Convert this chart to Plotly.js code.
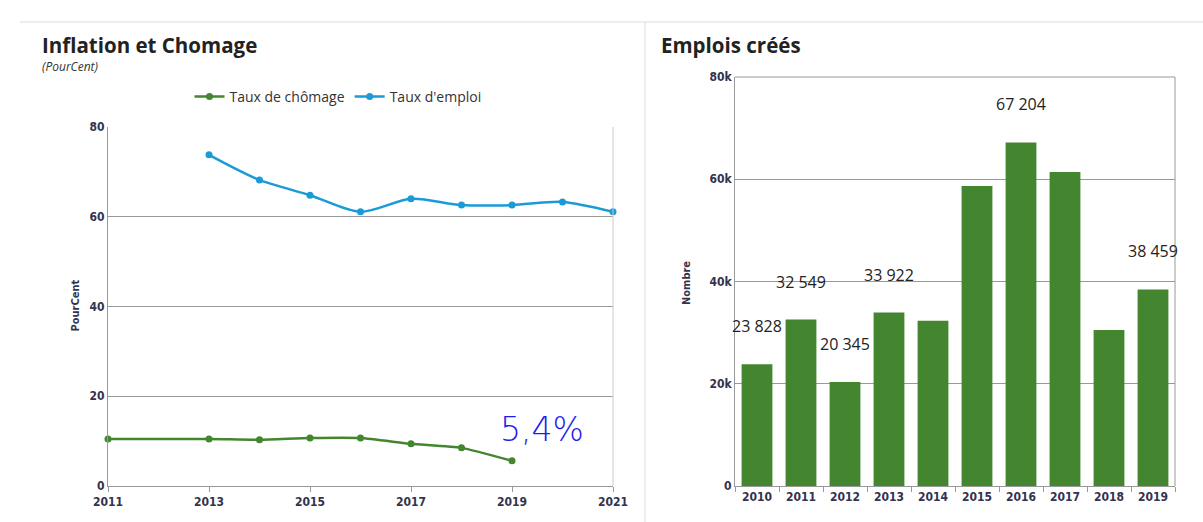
<!DOCTYPE html>
<html><head><meta charset="utf-8">
<script src="https://cdn.plot.ly/plotly-3.0.1.min.js"></script>
<style>html,body{margin:0;padding:0;background:#fff}#chart{width:1203px;height:522px}</style>
</head><body><div id="chart"></div>
<script>
// Left chart data
const yearsEmploi = [2013, 2014, 2015, 2016, 2017, 2018, 2019, 2020, 2021];
const tauxEmploi = [73.8, 68.2, 64.8, 61.1, 64.0, 62.6, 62.6, 63.3, 61.1];
const yearsChomage = [2011, 2013, 2014, 2015, 2016, 2017, 2018, 2019];
const tauxChomage = [10.5, 10.5, 10.3, 10.7, 10.7, 9.4, 8.5, 5.6];
// Right chart data
const yearsEmplois = ['2010','2011','2012','2013','2014','2015','2016','2017','2018','2019'];
const emploisCrees = [23828, 32549, 20345, 33922, 32300, 58700, 67204, 61400, 30500, 38459];
const labelledYears = ['2010','2011','2012','2013','2016','2019'];
const labelledValues = [23828, 32549, 20345, 33922, 67204, 38459];
const labelledTexts = ['23 828','32 549','20 345','33 922','67 204','38 459'];

const W = 1203, H = 522;
const px = x => x / W, py = y => 1 - y / H;
const tickFont = {family: 'DejaVu Sans Condensed', size: 12, color: '#33334d', weight: 'bold'};

const traces = [
  {x: yearsChomage, y: tauxChomage, name: 'Taux de chômage', type: 'scatter', mode: 'lines+markers',
   line: {color: '#43862f', width: 2.5, shape: 'spline', smoothing: 0.5}, marker: {color: '#43862f', size: 7},
   xaxis: 'x', yaxis: 'y', cliponaxis: false},
  {x: yearsEmploi, y: tauxEmploi, name: "Taux d'emploi", type: 'scatter', mode: 'lines+markers',
   line: {color: '#1a9bd7', width: 2.5, shape: 'spline', smoothing: 0.8}, marker: {color: '#1a9bd7', size: 7},
   xaxis: 'x', yaxis: 'y', cliponaxis: false},
  {x: yearsEmplois, y: emploisCrees, type: 'bar', marker: {color: '#43862f', line: {width: 0}},
   xaxis: 'x2', yaxis: 'y2', showlegend: false}
];

const annotations = [
  {xref: 'paper', yref: 'paper', x: px(40), y: py(45), xanchor: 'left', yanchor: 'middle', showarrow: false,
   text: '<b>Inflation et Chomage</b>', font: {family: 'Open Sans', size: 20.5, color: '#222'}},
  {xref: 'paper', yref: 'paper', x: px(40), y: py(67), xanchor: 'left', yanchor: 'middle', showarrow: false,
   text: '<i>(PourCent)</i>', font: {family: 'Open Sans', size: 12, color: '#333'}},
  {xref: 'paper', yref: 'paper', x: px(659), y: py(45), xanchor: 'left', yanchor: 'middle', showarrow: false,
   text: '<b>Emplois créés</b>', font: {family: 'Open Sans', size: 20.5, color: '#222'}},
  {xref: 'paper', yref: 'paper', x: px(66), y: py(306), textangle: -90, showarrow: false,
   text: 'PourCent', font: {family: 'DejaVu Sans Condensed', size: 11, color: '#33334d', weight: 'bold'}},
  {xref: 'paper', yref: 'paper', x: px(686), y: py(283), textangle: -90, showarrow: false,
   text: 'Nombre', font: {family: 'DejaVu Sans Condensed', size: 11, color: '#33334d', weight: 'bold'}},
  {xref: 'x', yref: 'y', x: 2019.6, y: 12.5, showarrow: false, text: '5,4%',
   font: {family: 'DejaVu Sans', size: 33, color: '#1c1cf0', weight: 300}}
];
labelledYears.forEach((yr, i) => {
  annotations.push({xref: 'x2', yref: 'y2', x: yearsEmplois.indexOf(yr), y: labelledValues[i], yshift: 38, showarrow: false,
    text: labelledTexts[i], font: {family: 'Open Sans', size: 16, color: '#222'}});
});

const shapes = [
  {type: 'line', xref: 'paper', yref: 'paper', x0: px(20), x1: 1, y0: py(22), y1: py(22), line: {color: '#dddddd', width: 1}},
  {type: 'line', xref: 'paper', yref: 'paper', x0: px(645), x1: px(645), y0: py(22), y1: 0, line: {color: '#dddddd', width: 1}},
  {type: 'line', xref: 'paper', yref: 'paper', x0: px(613), x1: px(613), y0: py(127), y1: py(486), line: {color: '#cccccc', width: 1}},
  {type: 'line', xref: 'paper', yref: 'paper', x0: px(735), x1: px(1175), y0: py(77), y1: py(77), line: {color: '#999999', width: 1}},
  {type: 'line', xref: 'paper', yref: 'paper', x0: px(1175), x1: px(1175), y0: py(77), y1: py(486), line: {color: '#999999', width: 1}}
];

const layout = {
  width: W, height: H, margin: {l: 0, r: 0, t: 0, b: 0},
  paper_bgcolor: '#fff', plot_bgcolor: '#fff', font: {family: 'Open Sans', color: '#333'},
  showlegend: true,
  legend: {orientation: 'h', x: px(338), xanchor: 'center', y: py(97), yanchor: 'middle',
    font: {family: 'Open Sans', size: 14, color: '#333'}, itemwidth: 30, tracegroupgap: 0, bgcolor: 'rgba(0,0,0,0)'},
  xaxis: {domain: [px(108), px(613)], range: [2011, 2021], tickvals: [2011, 2013, 2015, 2017, 2019, 2021],
    showgrid: false, zeroline: false, showline: true, linecolor: '#999', linewidth: 1,
    ticks: 'outside', ticklen: 5, tickcolor: '#999', tickfont: tickFont, anchor: 'y', fixedrange: true},
  yaxis: {domain: [py(486), py(127)], range: [0, 80], tickvals: [0, 20, 40, 60, 80],
    showgrid: true, gridcolor: '#999', gridwidth: 1, zeroline: false, showline: true, linecolor: '#999',
    ticks: '', tickfont: tickFont, anchor: 'x', fixedrange: true},
  xaxis2: {domain: [px(735), px(1175)], type: 'category', categoryorder: 'array', categoryarray: yearsEmplois,
    range: [-0.5, 9.5], showgrid: false, zeroline: false, showline: true,
    linecolor: '#999', ticks: 'outside', tickson: 'boundaries', ticklen: 5, tickcolor: '#999', tickfont: tickFont,
    anchor: 'y2', fixedrange: true},
  yaxis2: {domain: [py(486), py(77)], range: [0, 80000], tickvals: [0, 20000, 40000, 60000, 80000],
    ticktext: ['0', '20k', '40k', '60k', '80k'], showgrid: true, gridcolor: '#999', zeroline: false,
    showline: true, linecolor: '#999', ticks: '', tickfont: tickFont, anchor: 'x2', fixedrange: true},
  bargap: 0.3,
  annotations: annotations, shapes: shapes
};

Plotly.newPlot('chart', traces, layout, {displayModeBar: false, staticPlot: true});
</script></body></html>
